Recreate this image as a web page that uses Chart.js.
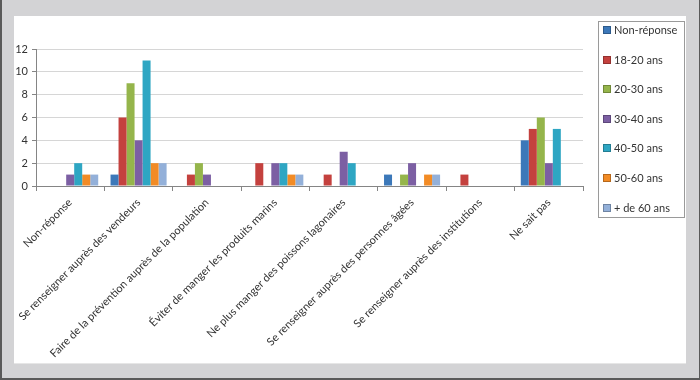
<!DOCTYPE html>
<html>
<head>
<meta charset="utf-8">
<script src="https://cdn.jsdelivr.net/npm/chart.js@4"></script>
<style>
  html, body { margin: 0; padding: 0; }
  body { width: 700px; height: 380px; position: relative; overflow: hidden; background: #d3d3d5; }
  #frame { position: absolute; left: 0; top: 0; width: 697px; height: 378px; border-left: 2px solid #5a5a5a; border-right: 1px solid #5a5a5a; border-bottom: 2px solid #5a5a5a; }
  #panel { position: absolute; left: 14px; top: 16px; width: 672px; height: 347px; background: #fff; box-shadow: 0 1px 0 #e6e6e6; }
  #chart { position: absolute; left: 0; top: 0; }
</style>
</head>
<body>
<div id="frame"></div>
<div id="panel"></div>
<canvas id="chart" width="700" height="380"></canvas>
<script>
// Categories and series
const categories = [
  'Non-réponse',
  'Se renseigner auprès des vendeurs',
  'Faire de la prévention auprès de la population',
  'Éviter de manger les produits marins',
  'Ne plus manger des poissons lagonaires',
  'Se renseigner auprès des personnes âgées',
  'Se renseigner auprès des institutions',
  'Ne sait pas'
];
const seriesNames = ['Non-réponse', '18-20 ans', '20-30 ans', '30-40 ans', '40-50 ans', '50-60 ans', '+ de 60 ans'];
const nonReponse = [0, 1, 0, 0, 0, 1, 0, 4];
const ans18_20   = [0, 6, 1, 2, 1, 0, 1, 5];
const ans20_30   = [0, 9, 2, 0, 0, 1, 0, 6];
const ans30_40   = [1, 4, 1, 2, 3, 2, 0, 2];
const ans40_50   = [2, 11, 0, 2, 2, 0, 0, 5];
const ans50_60   = [1, 2, 0, 1, 0, 1, 0, 0];
const ans60plus  = [1, 2, 0, 1, 0, 1, 0, 0];
const yTicks = [0, 2, 4, 6, 8, 10, 12];

const seriesValues = [nonReponse, ans18_20, ans20_30, ans30_40, ans40_50, ans50_60, ans60plus];
const colors = ['#3c78b9', '#c4413e', '#95b54b', '#7c5fa3', '#2ea6c3', '#f28b25', '#93b0d9'];

// Slight shading like Office bars
function shade(hex, f) {
  const n = parseInt(hex.slice(1), 16);
  const r = Math.round(((n >> 16) & 255) * f), g = Math.round(((n >> 8) & 255) * f), b = Math.round((n & 255) * f);
  return `rgb(${r},${g},${b})`;
}
function barFill(color) {
  return (ctx) => {
    const el = ctx.element;
    if (!el || el.width === undefined || !isFinite(el.x)) return color;
    const c = ctx.chart.ctx;
    const x0 = el.x - el.width / 2, x1 = el.x + el.width / 2;
    const g = c.createLinearGradient(x0, 0, x1, 0);
    g.addColorStop(0, shade(color, 0.92));
    g.addColorStop(0.4, color);
    g.addColorStop(1, shade(color, 0.85));
    return g;
  };
}

const boxedLegend = {
  id: 'boxedLegend',
  afterDraw(chart) {
    const c = chart.ctx;
    c.save();
    c.strokeStyle = '#9a9a9a';
    c.lineWidth = 1;
    c.strokeRect(598.5, 21.5, 86, 196);
    c.font = '11px Lato';
    c.textBaseline = 'middle';
    chart.data.datasets.forEach((ds, i) => {
      const y = 30 + i * 29.6;
      c.fillStyle = colors[i];
      c.fillRect(603, Math.round(y) - 4, 8, 8);
      c.strokeStyle = shade(colors[i], 0.75);
      c.strokeRect(603.5, Math.round(y) - 3.5, 7, 7);
      c.fillStyle = '#333';
      c.fillText(ds.label, 614, y + 0.5);
    });
    c.restore();
  }
};

new Chart(document.getElementById('chart'), {
  type: 'bar',
  data: {
    labels: categories,
    datasets: seriesNames.map((name, i) => ({
      label: name,
      data: seriesValues[i],
      backgroundColor: barFill(colors[i]),
      borderWidth: 0,
      categoryPercentage: 0.82,
      barPercentage: 1
    }))
  },
  options: {
    responsive: false,
    animation: false,
    layout: { padding: { left: 14, right: 117, top: 49, bottom: 0 } },
    plugins: { legend: { display: false }, tooltip: { enabled: false } },
    scales: {
      x: {
        offset: true,
        grid: { offset: true, drawOnChartArea: false, drawTicks: true, tickLength: 5, color: '#858585' },
        border: { color: '#858585' },
        ticks: {
          autoSkip: false, maxRotation: 45, minRotation: 45, padding: 5,
          color: '#333', font: { family: 'Lato', size: 11 }
        },
        afterFit: (s) => { s.height = 194; }
      },
      y: {
        min: 0, max: 12,
        afterBuildTicks: (s) => { s.ticks = yTicks.map(v => ({ value: v })); },
        grid: { color: '#d6d6d6', tickColor: '#858585', tickLength: 4 },
        border: { color: '#858585' },
        ticks: { padding: 4, color: '#333', font: { family: 'Lato', size: 11 } },
        afterFit: (s) => { s.width = 22; }
      }
    }
  },
  plugins: [boxedLegend]
});
</script>
</body>
</html>
